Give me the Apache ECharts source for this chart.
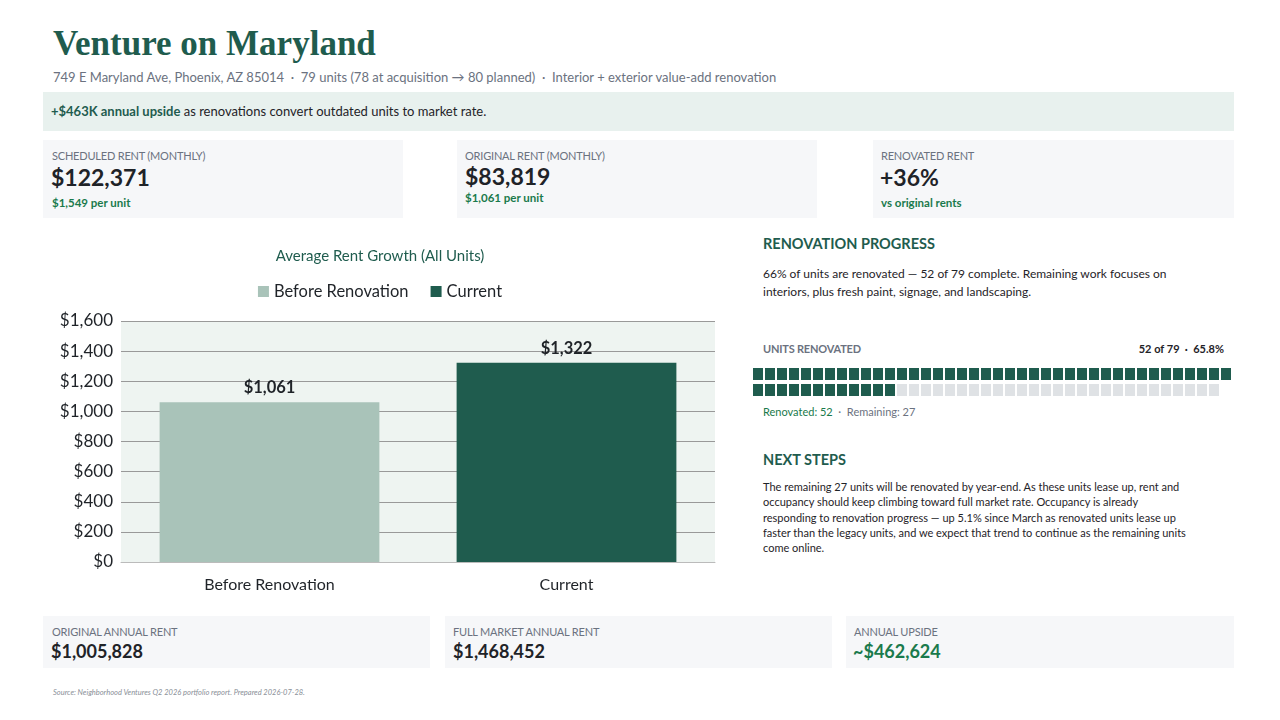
<!DOCTYPE html>
<html><head><meta charset="utf-8">
<script src="https://cdn.jsdelivr.net/npm/echarts@6/dist/echarts.min.js"></script>
<style>
body{margin:0;width:1280px;height:720px;background:#fff;font-family:Lato,"Open Sans",sans-serif;color:#1f2328;position:relative;overflow:hidden}
.a{position:absolute}
.card{position:absolute;background:#f6f7f9}
.lab{font-size:11px;color:#6b7280;letter-spacing:-0.2px}
.big{font-size:23px;font-weight:700;color:#1f2328}
.sub{font-size:11.5px;font-weight:700;color:#1a7a4c}
h2{margin:0;font-size:14.5px;color:#1f5c4e;font-weight:700}
.cell{position:absolute;width:10px;height:12px}
</style></head><body>
<div class="a" style="left:53px;top:24px;font-family:'Liberation Serif',serif;font-weight:700;font-size:35px;color:#1f5c4e">Venture on Maryland</div>
<div class="a" style="left:53px;top:69px;font-size:13px;color:#6b7280">749 E Maryland Ave, Phoenix, AZ 85014 &nbsp;· &nbsp;79 units (78 at acquisition → 80 planned) &nbsp;· &nbsp;Interior + exterior value-add renovation</div>
<div class="a" style="left:43px;top:92px;width:1191px;height:39px;background:#e8f1ee"></div>
<div class="a" style="left:51px;top:103px;font-size:13px;color:#1f2328"><b style="color:#1f5c4e">+$463K annual upside</b> as renovations convert outdated units to market rate.</div>

<div class="card" style="left:43px;top:140px;width:360px;height:78px"></div>
<div class="a lab" style="left:52px;top:149px">SCHEDULED RENT (MONTHLY)</div>
<div class="a big" style="left:51px;top:163px">$122,371</div>
<div class="a sub" style="left:52px;top:196px">$1,549 per unit</div>
<div class="card" style="left:457px;top:140px;width:360px;height:78px"></div>
<div class="a lab" style="left:465px;top:149px">ORIGINAL RENT (MONTHLY)</div>
<div class="a big" style="left:465px;top:162px">$83,819</div>
<div class="a sub" style="left:465px;top:191px">$1,061 per unit</div>
<div class="card" style="left:873px;top:140px;width:361px;height:78px"></div>
<div class="a lab" style="left:881px;top:149px">RENOVATED RENT</div>
<div class="a big" style="left:880px;top:163px">+36%</div>
<div class="a sub" style="left:881px;top:196px">vs original rents</div>

<div id="chart" class="a" style="left:30px;top:235px;width:700px;height:370px"></div>

<div class="a" style="left:763px;top:235px"><h2>RENOVATION PROGRESS</h2></div>
<div class="a" style="left:763px;top:265px;width:440px;font-size:12px;line-height:18px">66% of units are renovated — 52 of 79 complete. Remaining work focuses on interiors, plus fresh paint, signage, and landscaping.</div>
<div class="a lab" style="left:763px;top:342px;font-weight:700">UNITS RENOVATED</div>
<div class="a" style="left:1100px;top:342px;width:124px;text-align:right;font-size:11px;font-weight:700">52 of 79 &nbsp;· &nbsp;65.8%</div>
<div id="waffle" class="a" style="left:753px;top:368px"></div>
<div class="a" style="left:763px;top:405px;font-size:11px;color:#6b7280"><span style="color:#1a7a4c">Renovated: 52</span> &nbsp;· &nbsp;Remaining: 27</div>

<div class="a" style="left:763px;top:451px"><h2>NEXT STEPS</h2></div>
<div class="a" style="left:763px;top:479px;width:430px;font-size:11px;line-height:15.3px">The remaining 27 units will be renovated by year-end. As these units lease up, rent and occupancy should keep climbing toward full market rate. Occupancy is already responding to renovation progress — up 5.1% since March as renovated units lease up faster than the legacy units, and we expect that trend to continue as the remaining units come online.</div>

<div class="card" style="left:43px;top:616px;width:387px;height:52px"></div>
<div class="a lab" style="left:52px;top:625px">ORIGINAL ANNUAL RENT</div>
<div class="a" style="left:51px;top:640px;font-size:18px;font-weight:700">$1,005,828</div>
<div class="card" style="left:445px;top:616px;width:387px;height:52px"></div>
<div class="a lab" style="left:453px;top:625px">FULL MARKET ANNUAL RENT</div>
<div class="a" style="left:453px;top:640px;font-size:18px;font-weight:700">$1,468,452</div>
<div class="card" style="left:846px;top:616px;width:388px;height:52px"></div>
<div class="a lab" style="left:854px;top:625px">ANNUAL UPSIDE</div>
<div class="a" style="left:853px;top:640px;font-size:18px;font-weight:700;color:#1a7a4c">~$462,624</div>
<div class="a" style="left:53px;top:688px;font-size:7.5px;font-style:italic;color:#8a8f98">Source: Neighborhood Ventures Q2 2026 portfolio report. Prepared 2026-07-28.</div>

<script>
const categories = ['Before Renovation','Current'];
const beforeValues = [1061, null];
const currentValues = [null, 1322];
const yTicks = [0,200,400,600,800,1000,1200,1400,1600];
const totalUnits = 79, renovatedUnits = 52, perRow = 40;

const w = document.getElementById('waffle');
for (let i=0;i<totalUnits;i++){
  const d=document.createElement('div');d.className='cell';
  d.style.left=(i%perRow)*12+'px';d.style.top=Math.floor(i/perRow)*16+'px';
  d.style.background=i<renovatedUnits?'#1f5c4e':'#dfe2e5';w.appendChild(d);
}

const chart = echarts.init(document.getElementById('chart'));
const fmt = v => '$' + v.toLocaleString('en-US');
const lbl = {show:true,position:'top',fontSize:16.5,fontWeight:'bold',color:'#1f2328',distance:6,formatter:p=>fmt(p.value)};
chart.setOption({
  animation:false,
  textStyle:{fontFamily:'Lato,"Open Sans",sans-serif'},
  title:{text:'Average Rent Growth (All Units)',left:'center',top:9,textStyle:{fontSize:15,fontWeight:'normal',color:'#1f5c4e'}},
  legend:{top:43,left:'center',itemWidth:11,itemHeight:11,itemGap:22,icon:'rect',textStyle:{fontSize:16.5,color:'#1f2328'},data:['Before Renovation','Current']},
  grid:{left:91,right:15,top:86,bottom:43,show:true,backgroundColor:'#eef4f1',borderWidth:0},
  xAxis:{type:'category',data:categories,axisTick:{show:false},axisLine:{lineStyle:{color:'#bbb'}},axisLabel:{fontSize:16,color:'#1f2328',margin:15}},
  yAxis:{type:'value',min:yTicks[0],max:yTicks[yTicks.length-1],interval:200,axisLabel:{fontSize:17,color:'#1f2328',formatter:v=>fmt(v)},splitLine:{lineStyle:{color:'#999'}}},
  series:[
    {name:'Before Renovation',type:'bar',stack:'a',data:beforeValues,barWidth:'74%',itemStyle:{color:'#a9c3b9'},label:lbl},
    {name:'Current',type:'bar',stack:'a',data:currentValues,barWidth:'74%',itemStyle:{color:'#1f5c4e'},label:lbl}
  ]
});
</script>
</body></html>
